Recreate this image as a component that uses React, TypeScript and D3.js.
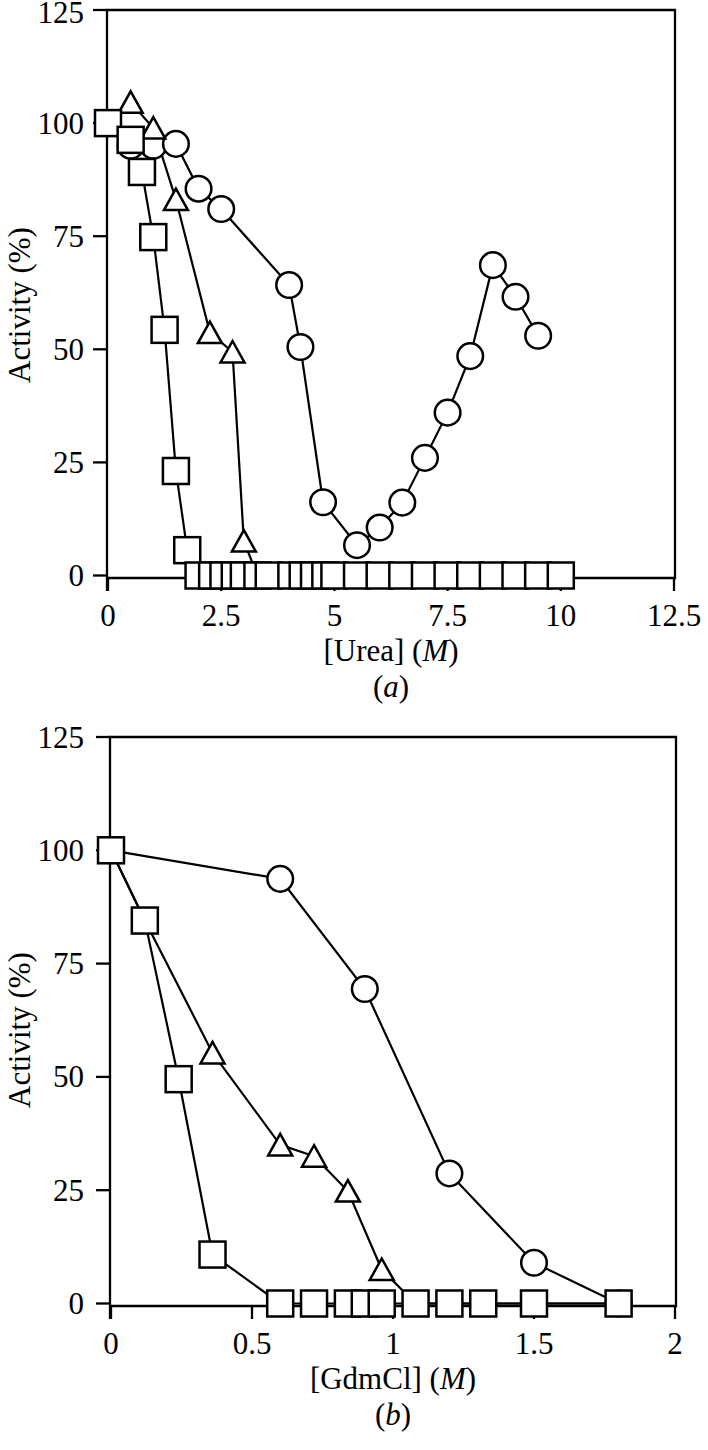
import React from "react";
import * as d3 from "d3";

// panel (a) urea
const ureaSquareConc = [0, 0.5, 0.75, 1.0, 1.25, 1.5, 1.75, 2.0, 2.3, 2.55, 2.8, 3.0, 3.3, 3.55, 4.05, 4.3, 4.55, 4.8, 5.0, 5.5, 6.0, 6.5, 7.0, 7.5, 8.0, 8.5, 9.0, 9.5, 10.0];
const ureaSquareAct = [100, 96.3, 89.2, 74.8, 54.3, 23.1, 5.6, 0, 0, 0, 0, 0, 0, 0, 0, 0, 0, 0, 0, 0, 0, 0, 0, 0, 0, 0, 0, 0, 0];
const ureaTriConc = [0, 0.5, 1.0, 1.5, 2.25, 2.75, 3.0, 3.3, 3.55, 4.05, 4.3, 4.55, 4.8, 5.0, 5.5, 6.0, 6.5, 7.0, 7.5, 8.0, 8.5, 9.0, 9.5, 10.0];
const ureaTriAct = [100, 104.6, 98.9, 83.1, 53.7, 49.4, 7.6, 0, 0, 0, 0, 0, 0, 0, 0, 0, 0, 0, 0, 0, 0, 0, 0, 0];
const ureaCircConc = [0, 0.5, 1.0, 1.5, 2.0, 2.5, 4.0, 4.25, 4.75, 5.5, 6.0, 6.5, 7.0, 7.5, 8.0, 8.5, 9.0, 9.5];
const ureaCircAct = [100, 95, 95, 95.4, 85.5, 81.0, 64.2, 50.5, 16.2, 6.7, 10.6, 16.1, 26.0, 36.0, 48.5, 68.6, 61.6, 53.0];
const ureaTicks = [0, 2.5, 5, 7.5, 10, 12.5];

// panel (b) GdmCl
const gdmSquareConc = [0, 0.12, 0.24, 0.36, 0.6, 0.72, 0.84, 0.9, 0.96, 1.08, 1.2, 1.32, 1.5, 1.8];
const gdmSquareAct = [100, 84.5, 49.5, 10.8, 0, 0, 0, 0, 0, 0, 0, 0, 0, 0];
const gdmTriConc = [0, 0.12, 0.36, 0.6, 0.72, 0.84, 0.96, 1.08, 1.2, 1.32, 1.5, 1.8];
const gdmTriAct = [100, 84.5, 55.3, 35, 32.5, 24.8, 7.5, 0, 0, 0, 0, 0];
const gdmCircConc = [0, 0.6, 0.9, 1.2, 1.5, 1.8];
const gdmCircAct = [100, 93.7, 69.4, 28.7, 9.0, 0];
const gdmTicks = [0, 0.5, 1, 1.5, 2];
const gdmTickLabels = ["0", "0.5", "1", "1.5", "2"];

const activityTicks = [0, 25, 50, 75, 100, 125];

const FONT = "'Liberation Serif', 'Times New Roman', serif";

const zip = (xs: number[], ys: number[]) => xs.map((x, i) => [x, ys[i]] as [number, number]);

function Panel(props: any) {
  const { xDomain, xRange, yRange, xTicks, xTickLabels, series, titleParts, tag, yLabelY } = props;
  const x = d3.scaleLinear().domain(xDomain).range(xRange);
  const y = d3.scaleLinear().domain([0, 125]).range(yRange);
  const line = d3.line<[number, number]>().x((d) => x(d[0])).y((d) => y(d[1]));
  const left = xRange[0] - 1;
  const right = xRange[1] + 1;
  const top = y(125);
  const bottom = y(0) + 2.5;
  const tri = (cx: number, cy: number) =>
    `M${cx},${cy - 11}L${cx + 12},${cy + 10.5}L${cx - 12},${cy + 10.5}Z`;

  return (
    <g fontFamily={FONT} fill="#000">
      {/* frame */}
      <path d={`M${left},${bottom + 13}V${top}H${right}V${bottom}H${left}`} fill="none" stroke="#000" strokeWidth={2.3} />
      {activityTicks.map((t) => (
        <g key={"y" + t}>
          <line x1={left - 14} x2={left} y1={y(t)} y2={y(t)} stroke="#000" strokeWidth={2.3} />
          <text x={84} y={Math.max(y(t), 12)} dy="0.34em" textAnchor="end" fontSize={31}>{t}</text>
        </g>
      ))}
      {xTicks.map((t: number, i: number) => (
        <g key={"x" + t}>
          <line x1={x(t)} x2={x(t)} y1={bottom} y2={bottom + 13} stroke="#000" strokeWidth={2.3} />
          <text x={x(t)} y={y(0) + 50} textAnchor="middle" fontSize={31}>{xTickLabels ? xTickLabels[i] : String(t)}</text>
        </g>
      ))}
      {/* lines */}
      {series.map((s: any, i: number) => (
        <path key={"l" + i} d={line(zip(s.xs, s.ys)) || ""} fill="none" stroke="#000" strokeWidth={2.2} />
      ))}
      {/* markers */}
      {series.map((s: any, i: number) => (
        <g key={"m" + i} fill="#fff" stroke="#000" strokeWidth={2.5}>
          {zip(s.xs, s.ys).map((d, j) => {
            const cx = x(d[0]);
            const cy = y(d[1]);
            if (s.shape === "circle") return <circle key={j} cx={cx} cy={cy} r={12.8} />;
            if (s.shape === "triangle") return <path key={j} d={tri(cx, cy)} />;
            return <rect key={j} x={cx - 13} y={cy - 13} width={26} height={26} />;
          })}
        </g>
      ))}
      {/* axis titles */}
      <text x={(xRange[0] + xRange[1]) / 2} y={y(0) + 85} textAnchor="middle" fontSize={31}>
        {titleParts[0]}
        <tspan fontStyle="italic">M</tspan>)
      </text>
      <text x={(xRange[0] + xRange[1]) / 2} y={y(0) + 121} textAnchor="middle" fontSize={31}>
        (<tspan fontStyle="italic">{tag}</tspan>)
      </text>
      <text transform={`translate(30,${yLabelY}) rotate(-90)`} textAnchor="middle" fontSize={31}>
        Activity (%)
      </text>
    </g>
  );
}

export default function App() {
  const seriesA = [
    { shape: "circle", xs: ureaCircConc, ys: ureaCircAct },
    { shape: "triangle", xs: ureaTriConc, ys: ureaTriAct },
    { shape: "square", xs: ureaSquareConc, ys: ureaSquareAct },
  ];
  const seriesB = [
    { shape: "circle", xs: gdmCircConc, ys: gdmCircAct },
    { shape: "triangle", xs: gdmTriConc, ys: gdmTriAct },
    { shape: "square", xs: gdmSquareConc, ys: gdmSquareAct },
  ];
  return (
    <svg width={708} height={1450} style={{ position: "absolute", left: 0, top: 0, background: "#fff" }}>
      <rect width={708} height={1450} fill="#fff" />
      <Panel
        xDomain={[0, 12.5]}
        xRange={[108, 674]}
        yRange={[575.5, 10]}
        xTicks={ureaTicks}
        series={seriesA}
        titleParts={["[Urea] ("]}
        tag="a"
        yLabelY={305}
      />
      <Panel
        xDomain={[0, 2]}
        xRange={[111, 675]}
        yRange={[1303.5, 737]}
        xTicks={gdmTicks}
        xTickLabels={gdmTickLabels}
        series={seriesB}
        titleParts={["[GdmCl] ("]}
        tag="b"
        yLabelY={1030}
      />
    </svg>
  );
}
